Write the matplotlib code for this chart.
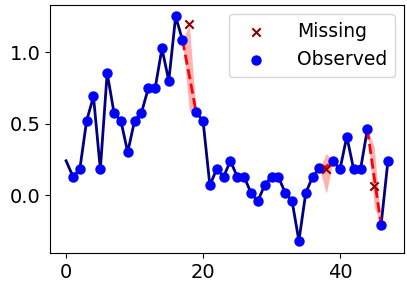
import numpy as np
import matplotlib
matplotlib.use("Agg")
import matplotlib.pyplot as plt

# series values (None = missing)
values = [0.24, 0.13, 0.18, 0.52, 0.69, 0.18, 0.855, 0.575, 0.52, 0.30,
          0.52, 0.575, 0.746, 0.746, 1.026, 0.80, 1.25, 1.084, None, 0.578,
          0.52, 0.068, 0.184, 0.128, 0.24, 0.128, 0.128, 0.016, -0.042, 0.07,
          0.128, 0.128, 0.016, -0.04, -0.32, 0.014, 0.128, 0.187, None, 0.238,
          0.18, 0.41, 0.18, 0.18, 0.46, None, -0.21, 0.238]
missing_idx = [18, 38, 45]
missing_true = [1.196, 0.18, 0.065]
pred_mean = [0.835, 0.20, 0.125]
pred_lower = [0.59, 0.012, -0.08]
pred_upper = [1.19, 0.29, 0.34]
xticks = [0, 20, 40]

x = np.arange(len(values))
y = np.array([np.nan if v is None else v for v in values])

fig = plt.figure(figsize=(4.07, 2.84), dpi=100)
ax = fig.add_axes([50/407, 1-253/284, 354/407, 248/284])

ax.plot(x, y, color='navy', lw=2, zorder=2)
obs = ~np.isnan(y)
obs[0] = False
h_obs = ax.scatter(x[obs], y[obs], color='blue', s=42, zorder=3, label='Observed')

for m, t, mu, lo, up in zip(missing_idx, missing_true, pred_mean, pred_lower, pred_upper):
    xs = [m-1, m, m+1]
    ys = [y[m-1], mu, y[m+1]]
    ax.plot(xs, ys, color='red', lw=2, ls='--', zorder=2)
    ax.fill_between(xs, [y[m-1], lo, y[m+1]], [y[m-1], up, y[m+1]],
                    color='red', alpha=0.3, lw=0, zorder=1)
h_mis = ax.scatter(missing_idx, missing_true, marker='x', color='darkred', s=36, lw=1.5,
                   zorder=4, label='Missing')

ax.set_xticks(xticks)
ax.set_yticks([0.0, 0.5, 1.0])
ax.tick_params(labelsize=14)
ax.set_xlim(-2.35, 49.35)
ax.set_ylim(-0.405, 1.33)
ax.legend(handles=[h_mis, h_obs], loc='upper right', fontsize=13.5, handletextpad=1.2)
fig.savefig('out.png', dpi=100)
